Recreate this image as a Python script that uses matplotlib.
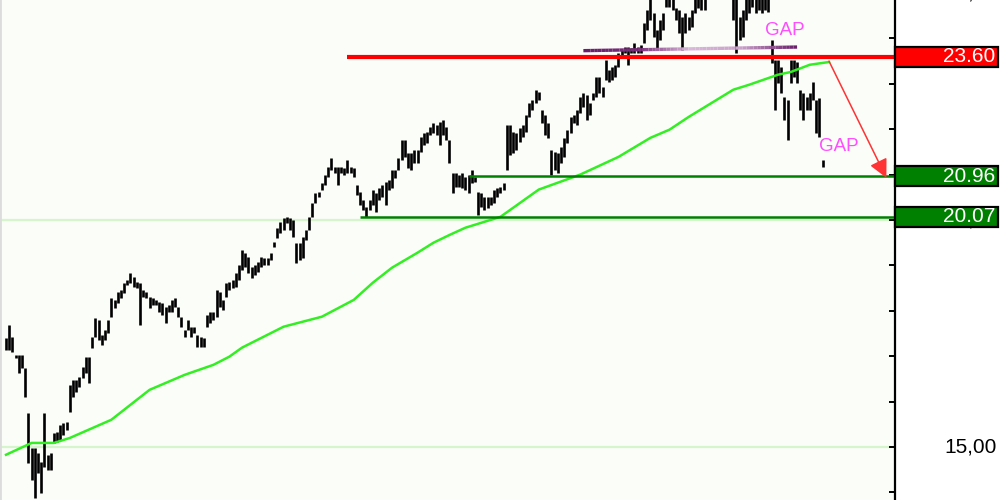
import matplotlib
matplotlib.use('Agg')
import matplotlib.pyplot as plt
import matplotlib.transforms as mtransforms
from matplotlib.patches import Rectangle
from matplotlib.collections import LineCollection
from matplotlib.colors import LinearSegmentedColormap
import numpy as np

# daily high / low, one value per trading day
highs = [
    17.41, 17.69, 17.43, 17.03, 17.03, 17.03, 16.74, 15.75, 14.98, 14.98,
    14.87, 14.67, 15.75, 14.83, 14.87, 15.31, 15.33, 15.49, 15.53, 15.56,
    16.37, 16.48, 16.48, 16.55, 16.77, 16.99, 16.99, 17.43, 17.85, 17.80,
    17.47, 17.58, 17.80, 18.29, 18.24, 18.42, 18.46, 18.62, 18.68, 18.84,
    18.75, 18.64, 18.62, 18.46, 18.42, 18.31, 18.29, 18.24, 18.20, 18.18,
    18.09, 18.13, 18.24, 18.29, 18.09, 17.87, 17.58, 17.80, 17.65, 17.65,
    17.47, 17.43, 17.41, 17.91, 17.98, 17.98, 18.46, 18.42, 18.24, 18.62,
    18.64, 18.68, 18.84, 19.01, 19.34, 19.28, 19.19, 18.97, 19.01, 19.08,
    19.19, 19.17, 19.17, 19.28, 19.52, 19.83, 19.96, 20.05, 20.07, 20.05,
    20.00, 19.50, 19.50, 19.63, 19.79, 20.07, 20.38, 20.60, 20.62, 20.82,
    21.00, 21.17, 21.37, 21.17, 21.17, 21.17, 21.15, 21.33, 21.17, 21.15,
    20.78, 20.62, 20.44, 20.29, 20.44, 20.67, 20.60, 20.71, 20.78, 20.84,
    20.89, 21.11, 21.11, 21.37, 21.77, 21.77, 21.48, 21.48, 21.55, 21.55,
    21.83, 21.92, 21.94, 22.05, 22.14, 22.10, 22.16, 22.21, 22.05, 21.77,
    21.04, 21.04, 21.00, 21.04, 20.95, 21.00, 21.11, 20.95, 20.62, 20.60,
    20.51, 20.51, 20.51, 20.67, 20.71, 20.73, 20.82, 22.10, 22.10, 21.94,
    21.92, 22.03, 22.10, 22.32, 22.58, 22.65, 22.87, 22.82, 22.43, 22.32,
    22.14, 21.55, 21.50, 21.48, 21.61, 21.81, 21.99, 22.27, 22.32, 22.43,
    22.71, 22.80, 22.76, 22.58, 22.80, 23.15, 23.15, 22.93, 23.53, 23.31,
    23.37, 23.42, 23.68, 23.75, 23.81, 23.81, 23.79, 23.90, 23.81, 23.86,
    24.34, 24.63, 24.96, 24.56, 24.19, 24.41, 24.56, 24.96, 24.96, 24.96,
    24.67, 24.63, 24.48, 24.56, 24.48, 24.63, 24.92, 24.96, 24.96, 24.96,
    25.30, 25.45, 25.40, 25.55, 25.50, 25.35, 25.25, 25.30,
    24.96, 24.96, 24.48, 24.63, 24.96, 24.96, 24.96, 24.96, 24.96, 24.96,
    24.96, 24.96, 23.97, 23.53, 23.53, 23.37, 22.71, 22.65, 23.53, 23.53,
    23.48, 22.87, 22.80, 22.71, 22.80, 23.04, 22.65, 22.69, 21.33,
]
lows = [
    17.14, 17.14, 17.10, 16.96, 16.63, 16.74, 16.11, 14.65, 14.28, 13.88,
    14.43, 13.99, 14.56, 14.50, 14.50, 15.09, 15.11, 15.16, 15.27, 15.38,
    15.78, 16.11, 16.22, 16.33, 16.52, 16.63, 16.41, 17.19, 17.43, 17.36,
    17.25, 17.36, 17.52, 17.87, 18.07, 18.18, 18.29, 18.40, 18.57, 18.62,
    18.53, 18.51, 17.69, 18.31, 18.29, 18.07, 18.13, 18.13, 17.98, 17.91,
    17.74, 17.98, 17.98, 18.09, 17.87, 17.65, 17.43, 17.58, 17.43, 17.52,
    17.21, 17.21, 17.21, 17.65, 17.74, 17.80, 17.87, 18.09, 18.02, 18.31,
    18.46, 18.51, 18.53, 18.68, 18.90, 18.97, 18.84, 18.73, 18.79, 18.86,
    18.97, 19.01, 19.01, 19.12, 19.41, 19.61, 19.72, 19.79, 19.94, 19.79,
    19.63, 19.06, 19.12, 19.17, 19.56, 19.79, 20.07, 20.38, 20.51, 20.67,
    20.78, 20.95, 21.11, 21.04, 20.78, 21.04, 21.00, 21.04, 21.04, 20.95,
    20.56, 20.33, 20.22, 20.07, 20.22, 20.33, 20.18, 20.44, 20.51, 20.33,
    20.67, 20.71, 20.93, 21.11, 21.33, 21.39, 21.15, 21.11, 21.26, 21.26,
    21.50, 21.66, 21.70, 21.88, 21.92, 21.88, 21.66, 21.88, 21.77, 21.26,
    20.60, 20.73, 20.73, 20.71, 20.67, 20.60, 20.82, 20.84, 20.11, 20.29,
    20.22, 20.27, 20.33, 20.38, 20.51, 20.60, 20.67, 21.11, 21.44, 21.48,
    21.55, 21.72, 21.83, 21.94, 22.27, 22.43, 22.58, 22.65, 22.14, 21.88,
    21.81, 21.00, 21.11, 21.04, 21.26, 21.39, 21.70, 21.92, 22.14, 22.10,
    22.36, 22.49, 22.21, 22.32, 22.65, 22.71, 22.80, 22.71, 23.09, 23.04,
    23.09, 23.15, 23.37, 23.64, 23.68, 23.42, 23.68, 23.68, 23.68, 23.68,
    23.90, 24.19, 24.41, 24.04, 23.75, 23.97, 24.19, 24.70, 24.70, 24.63,
    24.41, 24.12, 23.75, 24.12, 24.19, 24.26, 24.56, 24.67, 24.63, 24.63,
    24.95, 25.05, 25.00, 25.10, 25.05, 24.98, 24.92, 24.95,
    24.41, 23.68, 23.97, 24.04, 24.41, 24.56, 24.70, 24.56, 24.63, 24.56,
    24.63, 24.59, 23.46, 22.43, 23.02, 22.80, 22.21, 21.77, 23.02, 23.15,
    23.02, 22.43, 22.21, 22.43, 22.43, 22.65, 21.92, 21.83, 21.17,
]

# moving average (read at a few days)
ma_day = [0, 8, 15, 20, 33, 37, 45, 56, 65, 70, 74, 87, 93, 99, 109, 115,
          121, 129, 134, 139, 144, 155, 167, 180, 192, 202, 208, 214, 228,
          233, 242, 246, 252, 258]
ma_value = [14.83, 15.09, 15.09, 15.20, 15.60, 15.82, 16.26, 16.59, 16.81,
            16.99, 17.19, 17.65, 17.76, 17.87, 18.24, 18.62, 18.95, 19.28,
            19.50, 19.67, 19.83, 20.07, 20.67, 21.00, 21.39, 21.81, 21.99,
            22.27, 22.87, 22.98, 23.20, 23.26, 23.42, 23.48]

# drawn levels: value, first day, box colour
level_values = [23.60, 20.96, 20.07]
level_start = [107, 145, 111]
level_colors = ['#ff0000', '#008000', '#008000']

grid_values = [15, 20]
axis_labels = ['25,00', '20,00', '15,00']
axis_label_values = [25, 20, 15]

neckline_days = [181, 248]
neckline_values = [23.73, 23.81]

arrow_from = (258, 23.50)
arrow_to = (276, 20.93)

gap_days = [244, 261]
gap_values = [24.17, 21.61]

font = 'Liberation Sans'

fig = plt.figure(figsize=(10, 5), dpi=100)
fig.patch.set_facecolor('white')
ax = fig.add_axes([0, 0, 0.895, 1])
ax.set_facecolor('#fbfdf9')
ax.set_xlim(-1.9, 278.7)
ax.set_ylim(13.833, 24.846)

for v in grid_values:
    ax.axhline(v, color='#d6f5cc', lw=1.6, zorder=1)

n = min(len(highs), len(lows))
days = np.arange(n)
ax.vlines(days, lows[:n], highs[:n], color='black', lw=1.9, zorder=3)

ax.plot(ma_day, ma_value, color='#33ee22', lw=1.8, zorder=4)

right = ax.get_xlim()[1]
for v, start, c in zip(level_values, level_start, level_colors):
    lw = 3.0 if c == '#ff0000' else 1.8
    ax.plot([start, right], [v, v], color=c, lw=lw, zorder=5,
            solid_capstyle='butt', clip_on=False)

# neckline with fading purple shade
xs = np.linspace(neckline_days[0], neckline_days[1], 60)
ys = np.interp(xs, neckline_days, neckline_values)
pts = np.array([xs, ys]).T.reshape(-1, 1, 2)
segs = np.concatenate([pts[:-1], pts[1:]], axis=1)
cmap = LinearSegmentedColormap.from_list(
    'neck', ['#6b1f6b', '#7a2f7a', '#d9b8d9', '#c8a0c8', '#6b1f6b'])
lc = LineCollection(segs, cmap=cmap, lw=2.4, zorder=5)
lc.set_array(np.linspace(0, 1, len(segs)))
ax.add_collection(lc)

ax.annotate('', xy=arrow_to, xytext=arrow_from, zorder=6,
            arrowprops=dict(arrowstyle='-|>', color='#ff3333', lw=1.1,
                            mutation_scale=28, shrinkA=0, shrinkB=0))

for d, v in zip(gap_days, gap_values):
    ax.text(d, v, 'GAP', color='#ff4dff', fontsize=13.5, family=font,
            ha='center', va='center', zorder=7)

# right price scale
for s in ['top', 'bottom']:
    ax.spines[s].set_visible(False)
ax.spines['left'].set_color('#dcdcdc')
ax.spines['left'].set_linewidth(2)
ax.spines['right'].set_color('black')
ax.spines['right'].set_linewidth(1.6)
ax.set_xticks([])
ax.set_yticks([])
ax.set_yticks(range(14, 25), minor=True)
ax.tick_params(axis='y', which='minor', direction='in', length=4, width=1.4,
               left=False, right=True, labelleft=False, labelright=False)

trans = mtransforms.blended_transform_factory(ax.transAxes, ax.transData)
for lab, v in zip(axis_labels, axis_label_values):
    ax.text(1.114, v, lab, transform=trans, ha='right', va='center',
            fontsize=15, family=font, color='black', clip_on=False, zorder=8)

box_h = 0.44
for v, c in zip(level_values, level_colors):
    ax.add_patch(Rectangle((1.0, v - box_h / 2), 0.1155, box_h,
                           transform=trans, facecolor=c, edgecolor='black',
                           lw=1.6, clip_on=False, zorder=9))
    ax.text(1.1117, v, f'{v:.2f}', transform=trans, ha='right', va='center',
            fontsize=15, family=font, color='white', clip_on=False, zorder=10)

plt.savefig('out.png', dpi=100, facecolor='white')
